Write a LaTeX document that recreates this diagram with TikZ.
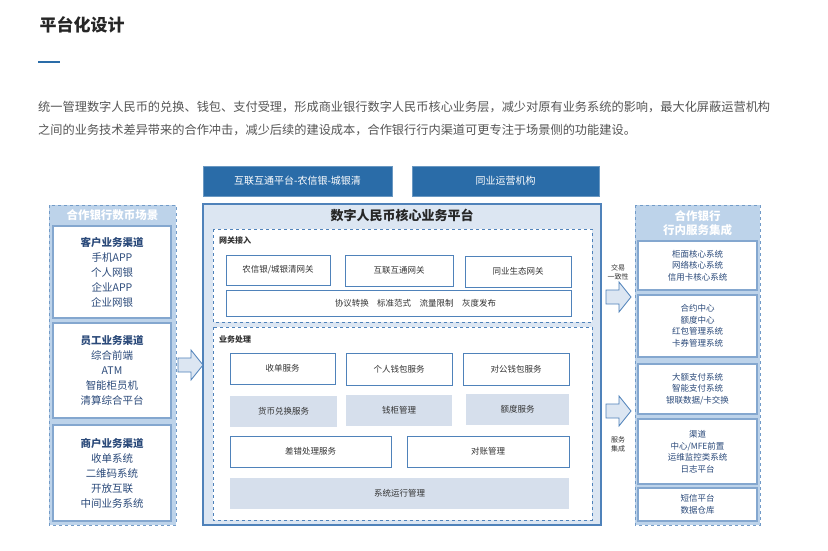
\documentclass[tikz,border=0pt]{standalone}
\usepackage{fontspec}
\setmainfont{Noto Sans CJK SC}
\definecolor{darkblue}{HTML}{2A6CA8}
\definecolor{lineblue}{HTML}{4F82BA}
\definecolor{paleblue}{HTML}{DCE6F2}
\definecolor{panelblue}{HTML}{BDD3EA}
\definecolor{shadeblue}{HTML}{D6DFEC}
\definecolor{inkblue}{HTML}{2B4A7A}
\definecolor{bodygray}{HTML}{555555}
\tikzset{
  topbox/.style={fill=darkblue, draw=darkblue!70, text=white, font=\fontsize{10}{12}\selectfont, inner sep=0pt},
  wbox/.style={fill=white, draw=lineblue, line width=0.9pt, text=black!80, font=\fontsize{8.5}{11}\selectfont, inner sep=0pt},
  sbox/.style={fill=shadeblue, text=black!80, font=\fontsize{8.5}{11}\selectfont, inner sep=0pt},
  panel/.style={fill=panelblue, draw=lineblue!80, dashed, line width=0.8pt},
  pbox/.style={fill=white, draw=lineblue!70, line width=1.2pt, text=inkblue, align=center, inner sep=0pt},
  zone/.style={fill=white, draw=lineblue, dashed, line width=0.8pt},
  blockarrow/.style={fill=paleblue, draw=lineblue, line width=0.8pt, line join=miter},
  small/.style={font=\fontsize{7}{9}\selectfont, text=black!80, align=center}
}
\begin{document}
\begin{tikzpicture}[x=1pt, y=-1pt]
  \useasboundingbox[fill=white] (0,0) rectangle (828,551);
  % heading and intro text
  \node[anchor=west, font=\fontsize{17}{20}\selectfont\bfseries, text=black!85] (title) at (36,25) {平台化设计};
  \fill[darkblue] (38,61) rectangle (60,63);
  \node[anchor=west, inner sep=0pt, font=\fontsize{12.2}{14}\selectfont, text=bodygray] (intro1) at (38,107) {统一管理数字人民币的兑换、钱包、支付受理，形成商业银行数字人民币核心业务层，减少对原有业务系统的影响，最大化屏蔽运营机构};
  \node[anchor=west, inner sep=0pt, font=\fontsize{12.2}{14}\selectfont, text=bodygray] (intro2) at (38,130) {之间的业务技术差异带来的合作冲击，减少后续的建设成本，合作银行行内渠道可更专注于场景侧的功能建设。};
  % top institutions
  \node[topbox, minimum width=189, minimum height=30] (hulian) at (297.5,181) {互联互通平台-农信银-城银清};
  \node[topbox, minimum width=187, minimum height=30] (tongye) at (505.5,181) {同业运营机构};
  % core platform
  \draw[fill=paleblue, draw=lineblue, line width=1.3pt] (203,204) rectangle (601,525);
  \node[font=\fontsize{13}{15}\selectfont\bfseries, text=black!85] (core) at (402,215) {数字人民币核心业务平台};
  % gateway zone
  \draw[zone] (213,229) rectangle (592,322);
  \node[anchor=west, font=\fontsize{8}{10}\selectfont\bfseries, text=black!80, inner sep=0pt] (gwtitle) at (219,240) {网关接入};
  \node[wbox, minimum width=104, minimum height=30] (gwnxy) at (278,270) {农信银/城银清网关};
  \node[wbox, minimum width=108, minimum height=31] (gwhl) at (399,270.5) {互联互通网关};
  \node[wbox, minimum width=106, minimum height=31] (gwty) at (518,271.5) {同业生态网关};
  \node[wbox, minimum width=345, minimum height=26] (gwfn) at (398.5,303) {\hspace*{4em}协议转换\quad 标准范式\quad 流量限制\quad 灰度发布};
  % business zone
  \draw[zone] (213,327) rectangle (592,520);
  \node[anchor=west, font=\fontsize{8}{10}\selectfont\bfseries, text=black!80, inner sep=0pt] (bztitle) at (219,339) {业务处理};
  \node[wbox, minimum width=105, minimum height=31] (sd) at (282.5,368.5) {收单服务};
  \node[wbox, minimum width=106, minimum height=32] (grqb) at (399,369) {个人钱包服务};
  \node[wbox, minimum width=106, minimum height=32] (dgqb) at (516,369) {对公钱包服务};
  \node[sbox, minimum width=107, minimum height=31] (hbdh) at (283.5,411.5) {货币兑换服务};
  \node[sbox, minimum width=106, minimum height=31] (qggl) at (399,410.5) {钱柜管理};
  \node[sbox, minimum width=103, minimum height=31] (edfw) at (517.5,409.5) {额度服务};
  \node[wbox, minimum width=161, minimum height=31] (ccfw) at (310.5,451.5) {差错处理服务};
  \node[wbox, minimum width=162, minimum height=31] (dzgl) at (488,451.5) {对账管理};
  \node[sbox, minimum width=339, minimum height=31] (xtyx) at (399.5,493.5) {系统运行管理};
  % left panel: partner bank scenarios
  \draw[panel] (49,205) rectangle (176,525);
  \node[text=white, font=\fontsize{11.5}{13}\selectfont\bfseries] (lefttitle) at (112.5,215) {合作银行数币场景};
  \node[pbox, minimum width=118, minimum height=92, font=\fontsize{10.5}{15}\selectfont] (khqd) at (112,272) {\textbf{客户业务渠道}\\手机APP\\个人网银\\企业APP\\企业网银};
  \node[pbox, minimum width=118, minimum height=95, font=\fontsize{10.5}{15}\selectfont] (ygqd) at (112,370.5) {\textbf{员工业务渠道}\\综合前端\\ATM\\智能柜员机\\清算综合平台};
  \node[pbox, minimum width=118, minimum height=96, font=\fontsize{10.5}{15}\selectfont] (shqd) at (112,473) {\textbf{商户业务渠道}\\收单系统\\二维码系统\\开放互联\\中间业务系统};
  % right panel: in-bank service integration
  \draw[panel] (635,205) rectangle (760,525);
  \node[text=white, align=center, font=\fontsize{11.5}{14}\selectfont\bfseries] (righttitle) at (697.5,223) {合作银行\\行内服务集成};
  \node[pbox, minimum width=119, minimum height=49, font=\fontsize{8.5}{11.5}\selectfont] (gmhx) at (697.5,265.5) {柜面核心系统\\网络核心系统\\信用卡核心系统};
  \node[pbox, minimum width=119, minimum height=62, font=\fontsize{8.5}{11.5}\selectfont] (hyzx) at (697.5,326) {合约中心\\额度中心\\红包管理系统\\卡券管理系统};
  \node[pbox, minimum width=119, minimum height=50, font=\fontsize{8.5}{11.5}\selectfont] (dezf) at (697.5,389) {大额支付系统\\智能支付系统\\银联数据/卡交换};
  \node[pbox, minimum width=119, minimum height=65, font=\fontsize{8.5}{11.5}\selectfont] (qdzx) at (697.5,451.5) {渠道\\中心/MFE前置\\运维监控类系统\\日志平台};
  \node[pbox, minimum width=119, minimum height=33, font=\fontsize{8.5}{11.5}\selectfont] (dxpt) at (697.5,504.5) {短信平台\\数据仓库};
  % block arrows
  \foreach \ax/\ay in {178/365, 606/297, 606/411}
    \draw[blockarrow] (\ax,\ay-7) -- ++(13,0) -- ++(0,-8) -- ++(12,15) -- ++(-12,15) -- ++(0,-8) -- ++(-13,0) -- cycle;
  \node[small] (jylabel) at (618,272) {交易\\一致性};
  \node[small] (fwlabel) at (618,444) {服务\\集成};
\end{tikzpicture}
\end{document}
